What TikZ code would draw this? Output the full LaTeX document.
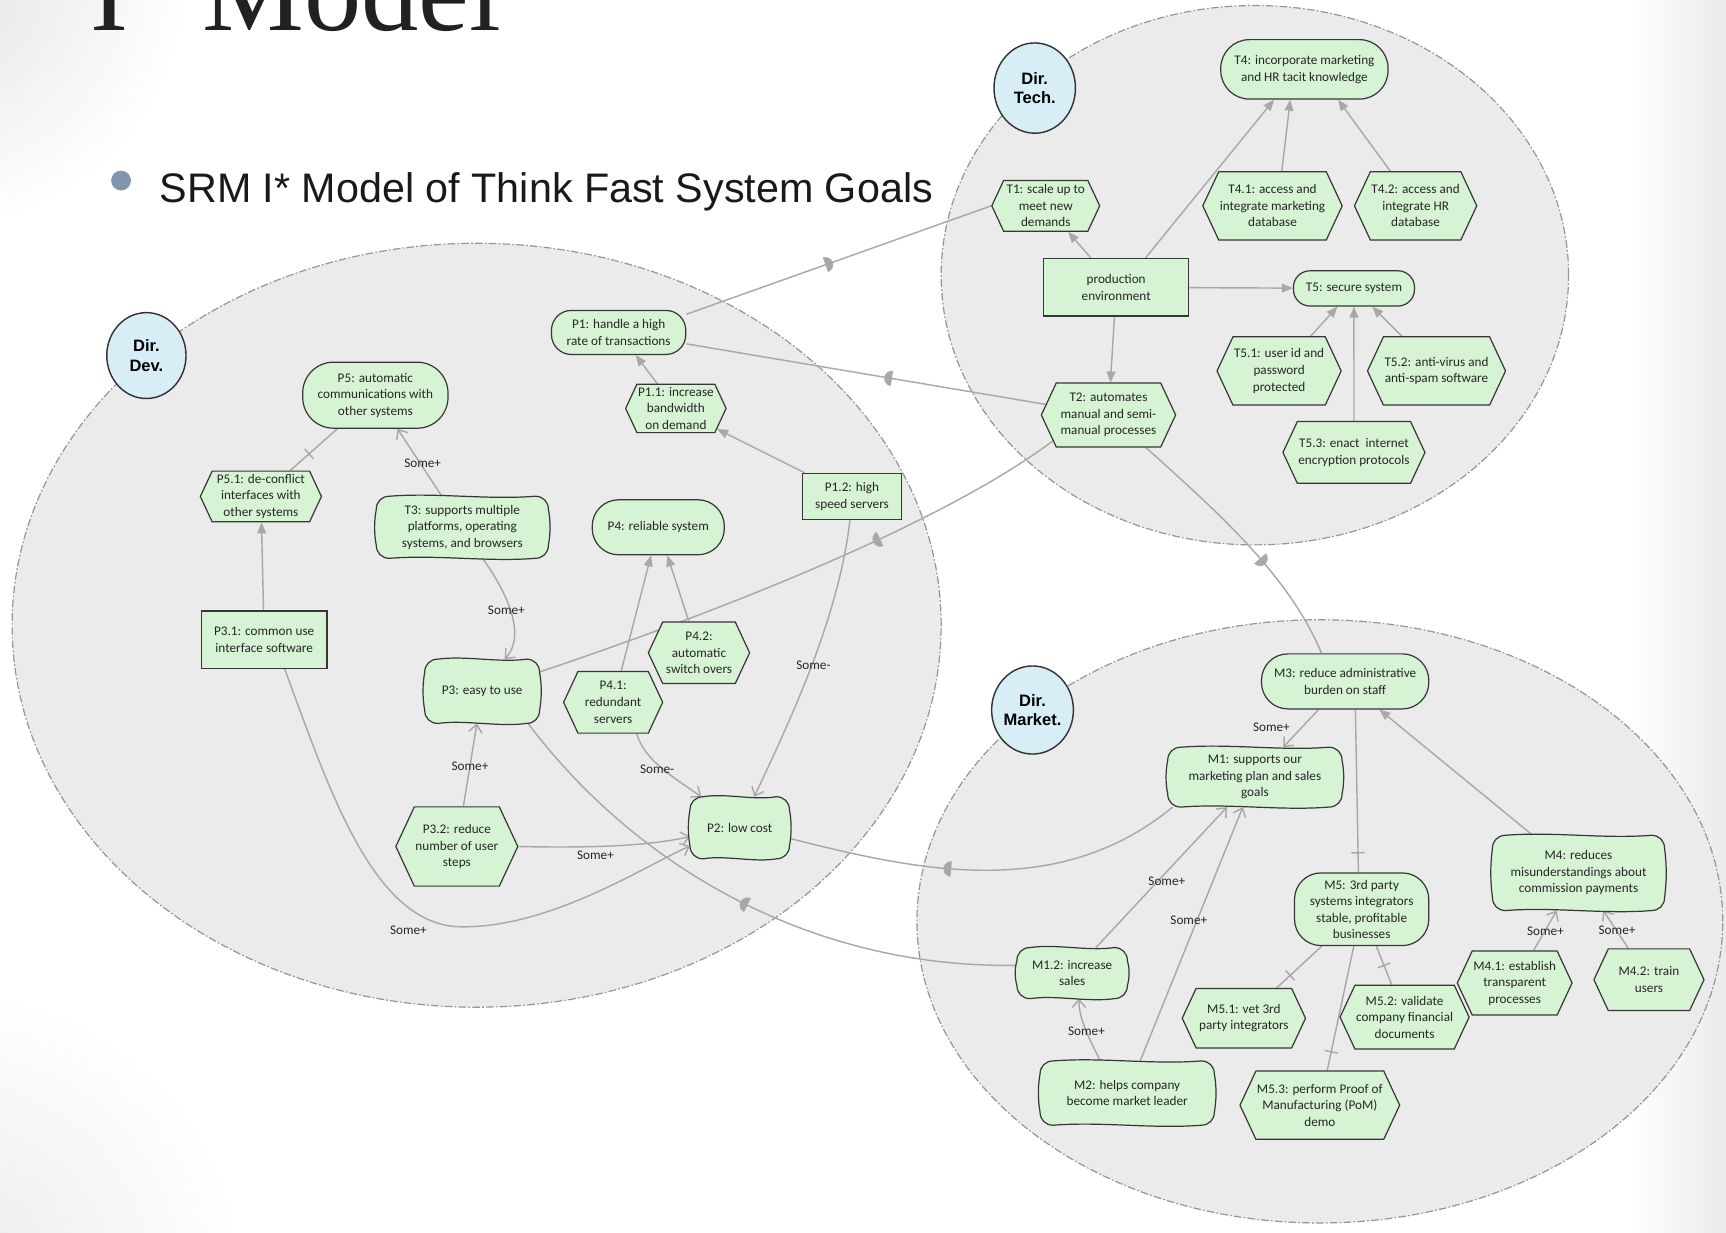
\documentclass[tikz,border=0pt]{standalone}
\usepackage{fontspec}
\setmainfont{Carlito}
\newfontfamily\arialf{Liberation Sans}
\newfontfamily\timesf{Liberation Serif}
\usetikzlibrary{arrows.meta,shapes.misc,shapes.symbols,shapes.geometric,decorations.markings,calc}
\pgfdeclarelayer{bound}\pgfdeclarelayer{edges}\pgfdeclarelayer{sg}
\pgfsetlayers{bound,edges,sg,main}
\definecolor{nodefill}{RGB}{214,243,212}
\definecolor{nodeline}{RGB}{55,55,55}
\definecolor{lg}{RGB}{168,168,168}
\definecolor{bfill}{RGB}{235,235,235}
\definecolor{bline}{RGB}{150,150,150}
\definecolor{actfill}{RGB}{216,238,246}
\definecolor{bulletc}{RGB}{128,150,174}
\tikzset{
 base/.style={font=\fontsize{12}{15}\selectfont, align=center, inner sep=1pt, text=black!85},
 sz/.style 2 args={minimum width=#1pt, minimum height=#2pt},
 goal/.style={base, rectangle, rounded corners=#1pt, draw=nodeline, fill=nodefill, line width=1.1pt},
 goal/.default=20,
 task/.style={base, signal, signal to=east and west, signal pointer angle=130, draw=nodeline, fill=nodefill, line width=1.1pt},
 res/.style={base, rectangle, draw=nodeline, fill=nodefill, line width=1.1pt},
 soft/.style={base, rectangle},
 sgline/.style={draw=nodeline, fill=nodefill, line width=1.1pt},
 actor/.style={ellipse, draw=black!80, fill=actfill, line width=1.3pt, font=\arialf\bfseries\fontsize{15}{18}\selectfont, align=center, inner sep=0pt},
 boundary/.style={fill=bfill, draw=bline, line width=1.1pt, dash pattern=on 7pt off 2pt on 1.5pt off 2pt},
 link/.style={draw=lg, line width=1.3pt},
 meansend/.style={link, -{Triangle[length=10pt,width=8pt]}},
 contrib/.style={link, -{Straight Barb[length=7pt,width=12pt,line width=1.3pt]}},
 dep/.style={link, postaction={decorate, decoration={markings, mark=at position #1 with {\fill[lg] (-4pt,-7pt) -- (-4pt,7pt) arc[start angle=90, end angle=-90, x radius=7pt, y radius=7pt] -- cycle;}}}},
 dep/.default=0.5,
 decomp/.style={link, postaction={decorate, decoration={markings, mark=at position #1 with {\draw[lg, line width=1.3pt] (0pt,-6pt) -- (0pt,6pt);}}}},
 decomp/.default=0.5,
 lbl/.style={font=\fontsize{12}{14}\selectfont, inner sep=0pt, text=black!85}
}
\newcommand\wavy[1]{%
\path[sgline] let \p1=(#1.north west), \p2=(#1.south east),
 \n1={\x2-\x1}, \n2={\y1-\y2} in
 (\x1+12pt,\y1)
 .. controls (\x1+0.35*\n1,\y1+3.5pt) and (\x1+0.65*\n1,\y1-3.5pt) .. (\x2-12pt,\y1)
 .. controls (\x2-5pt,\y1) and (\x2,\y1-5pt) .. (\x2,\y1-12pt)
 .. controls (\x2+2pt,\y1-0.4*\n2) and (\x2+2pt,\y2+0.4*\n2) .. (\x2,\y2+12pt)
 .. controls (\x2,\y2+5pt) and (\x2-5pt,\y2) .. (\x2-12pt,\y2)
 .. controls (\x1+0.65*\n1,\y2-3.5pt) and (\x1+0.35*\n1,\y2+3.5pt) .. (\x1+12pt,\y2)
 .. controls (\x1+5pt,\y2) and (\x1,\y2+5pt) .. (\x1,\y2+12pt)
 .. controls (\x1-2pt,\y2+0.4*\n2) and (\x1-2pt,\y1-0.4*\n2) .. (\x1,\y1-12pt)
 .. controls (\x1,\y1-5pt) and (\x1+5pt,\y1) .. cycle;}
\begin{document}
\begin{tikzpicture}[x=1pt,y=-1pt]
\useasboundingbox (0,0) rectangle (1568,1120);
\begin{pgfonlayer}{bound}
\fill[white] (0,0) rectangle (1568,1120);
\begin{scope}
\clip (0,0) rectangle (1568,1120);
\shade[inner color=black!11, outer color=white] (-60,-20) circle (230pt);
\shade[inner color=black!8, outer color=white] (-40,1160) circle (260pt);
\end{scope}
\shade[left color=white, right color=black!8] (1480,0) rectangle (1568,1120);
\draw[boundary] (433,568) ellipse [x radius=422pt, y radius=347pt];
\draw[boundary] (1140,250) ellipse [x radius=285pt, y radius=245pt];
\draw[boundary] (1199,837) ellipse [x radius=366pt, y radius=274pt];
\end{pgfonlayer}

% title
\node[anchor=base west, font=\timesf\fontsize{104}{104}\selectfont, text=black!87, inner sep=0pt] (title) at (82,28) {I*\hspace{-11pt} Model};
\fill[bulletc] (110,164) circle (9pt);
\node[anchor=base west, font=\arialf\fontsize{37.5}{40}\selectfont, text=black!90, inner sep=0pt] (sub) at (145,184) {SRM I* Model of Think Fast System Goals};

% actors
\node[actor, sz={72}{78}] (DevA) at (133,323) {Dir.\\Dev.};
\node[actor, sz={74}{82}] (TechA) at (940,80) {Dir.\\Tech.};
\node[actor, sz={72}{80}] (MarkA) at (938,645) {Dir.\\Market.};

% Dev
\node[goal=18, sz={122}{40}] (P1) at (562,302) {P1: handle a high\\rate of transactions};
\node[task, sz={90}{44}] (P11) at (614,371) {P1.1: increase\\bandwidth\\on demand};
\node[res, sz={90}{42}] (P12) at (774,451) {P1.2: high\\speed servers};
\node[goal=28, sz={132}{60}] (P5) at (341,359) {P5: automatic\\communications with\\other systems};
\node[task, sz={110}{46}] (P51) at (237,451) {P5.1: de-conflict\\interfaces with\\other systems};
\node[soft, sz={156}{56}] (T3) at (420,479) {T3: supports multiple\\platforms, operating\\systems, and browsers};
\node[goal=24, sz={120}{50}] (P4) at (598,479) {P4: reliable system};
\node[res, sz={114}{52}] (P31) at (240,581) {P3.1: common use\\interface software};
\node[soft, sz={104}{58}] (P3) at (438,628) {P3: easy to use};
\node[task, sz={92}{56}] (P42) at (635,593) {P4.2:\\automatic\\switch overs};
\node[task, sz={90}{56}] (P41) at (557,638) {P4.1:\\redundant\\servers};
\node[task, sz={100}{72}] (P32) at (415,769) {P3.2: reduce\\number of user\\steps};
\node[soft, sz={90}{56}] (P2) at (672,752) {P2: low cost};

% Tech
\node[goal=26, sz={152}{54}] (T4) at (1185,63) {T4: incorporate marketing\\and HR tacit knowledge};
\node[task, sz={98}{46}] (T1) at (950,187) {T1: scale up to\\meet new\\demands};
\node[task, sz={122}{62}] (T41) at (1156,187) {T4.1: access and\\integrate marketing\\database};
\node[task, sz={110}{62}] (T42) at (1286,187) {T4.2: access and\\integrate HR\\database};
\node[res, sz={132}{52}] (PE) at (1014,261) {production\\environment};
\node[goal=15, sz={110}{32}] (T5) at (1230,262) {T5: secure system};
\node[task, sz={112}{62}] (T51) at (1162,337) {T5.1: user id and\\password\\protected};
\node[task, sz={120}{62}] (T52) at (1305,337) {T5.2: anti-virus and\\anti-spam software};
\node[task, sz={122}{58}] (T2) at (1007,377) {T2: automates\\manual and semi-\\manual processes};
\node[task, sz={128}{56}] (T53) at (1230,411) {T5.3: enact\ \ internet\\encryption protocols};

% Market
\node[goal=24, sz={152}{50}] (M3) at (1222,619) {M3: reduce administrative\\burden on staff};
\node[soft, sz={158}{54}] (M1) at (1140,706) {M1: supports our\\marketing plan and sales\\goals};
\node[goal=24, sz={122}{66}] (M5) at (1237,826) {M5: 3rd party\\systems integrators\\stable, profitable\\businesses};
\node[soft, sz={156}{68}] (M4) at (1434,793) {M4: reduces\\misunderstandings about\\commission payments};
\node[soft, sz={100}{46}] (M12) at (974,884) {M1.2: increase\\sales};
\node[task, sz={112}{54}] (M51) at (1130,925) {M5.1: vet 3rd\\party integrators};
\node[task, sz={114}{58}] (M52) at (1276,924) {M5.2: validate\\company financial\\documents};
\node[task, sz={100}{58}] (M41) at (1376,893) {M4.1: establish\\transparent\\processes};
\node[task, sz={100}{56}] (M42) at (1498,890) {M4.2: train\\users};
\node[soft, sz={158}{58}] (M2) at (1024,993) {M2: helps company\\become market leader};
\node[task, sz={140}{62}] (M53) at (1199,1004) {M5.3: perform Proof of\\Manufacturing (PoM)\\demo};

\begin{pgfonlayer}{sg}
\wavy{T3}\wavy{P3}\wavy{P2}\wavy{M1}\wavy{M4}\wavy{M12}\wavy{M2}
\end{pgfonlayer}

\begin{pgfonlayer}{edges}
% Dev
\draw[meansend] (P11) -- (P1);
\draw[meansend] (P12) -- (P11);
\draw[decomp=0.4] (P51) -- (P5);
\draw[contrib] (T3) -- (P5);
\draw[meansend] (P31) -- (P51);
\draw[contrib] (T3.303) .. controls (462,540) and (478,578) .. (P3.55);
\draw[meansend] (P41) -- (P4);
\draw[meansend] (P42) -- (P4);
\draw[contrib] (P32) -- (P3);
\draw[contrib] (P32.east) .. controls (560,771) and (600,766) .. (P2.190);
\draw[contrib] (P31.305) .. controls (300,720) and (340,842) .. (420,842) .. controls (500,842) and (580,790) .. (P2.200);
\draw[contrib] (P41.307) .. controls (585,690) and (610,705) .. (P2.141);
\draw[contrib] (P12.265) .. controls (762,560) and (720,650) .. (P2.65);
% dependencies
\draw[dep=0.47] (P1.15) -- (T1.west);
\draw[dep=0.44] (T2) -- (P1);
\draw[dep=0.36] (T2.205) .. controls (850,480) and (640,560) .. (P3);
\draw[dep=0.5] (M12.172) .. controls (740,880) and (580,790) .. (P3.-35);
\draw[dep=0.6] (M1.200) .. controls (960,820) and (830,790) .. (P2.348);
\draw[dep=0.6] (T2.319) .. controls (1100,460) and (1170,520) .. (M3.130);
% Tech
\draw[meansend] (PE) -- (T1);
\draw[meansend] (PE.45) -- (T4.225);
\draw[meansend] (T41.75) -- (T4.245);
\draw[meansend] (T42) -- (T4.318);
\draw[meansend] (PE) -- (T5);
\draw[meansend] (PE) -- (T2);
\draw[meansend] (T51) -- (T5);
\draw[meansend] (T53) -- (T5);
\draw[meansend] (T52) -- (T5);
% Market
\draw[contrib] (M3) -- (M1);
\draw[decomp=0.88] (M3.290) -- (M5.95);
\draw[meansend] (M4) -- (M3);
\draw[contrib] (M12) -- (M1);
\draw[contrib] (M2) -- (M1);
\draw[contrib] (M2.130) .. controls (988,940) and (980,925) .. (M12.285);
\draw[decomp=0.7] (M5) -- (M51);
\draw[decomp=0.5] (M5) -- (M52);
\draw[decomp=0.85] (M5) -- (M53);
\draw[contrib] (M41) -- (M4);
\draw[contrib] (M42) -- (M4);
\end{pgfonlayer}

% labels
\node[lbl] (L1) at (384,421) {Some+};
\node[lbl] (L2) at (460,554) {Some+};
\node[lbl] (L3) at (427,696) {Some+};
\node[lbl] (L4) at (541,777) {Some+};
\node[lbl] (L5) at (371,845) {Some+};
\node[lbl] (L6) at (597,699) {Some-};
\node[lbl] (L7) at (739,604) {Some-};
\node[lbl] (L8) at (1155,661) {Some+};
\node[lbl] (L9) at (1060,801) {Some+};
\node[lbl] (L10) at (1080,836) {Some+};
\node[lbl] (L11) at (987,937) {Some+};
\node[lbl] (L12) at (1404,846) {Some+};
\node[lbl] (L13) at (1469,845) {Some+};
\end{tikzpicture}
\end{document}
